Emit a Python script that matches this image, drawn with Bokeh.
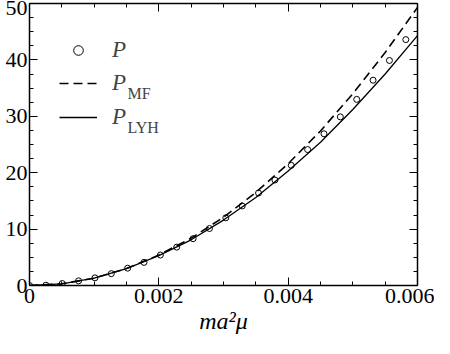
from bokeh.plotting import figure
from bokeh.models import (Range1d, LinearAxis, FixedTicker, Legend, LegendItem, Label, Title)
from bokeh.embed import file_html
from bokeh.resources import INLINE

# data
x_pts = [0, 0.000253, 0.000506, 0.000759, 0.001012, 0.001265, 0.001518, 0.001771,
         0.002024, 0.002277, 0.00253, 0.002783, 0.003036, 0.003289, 0.003542, 0.003795,
         0.004048, 0.004301, 0.004554, 0.004807, 0.00506, 0.005313, 0.005566, 0.005819]
p_pts = [0, 0.05, 0.35, 0.83, 1.36, 2.1, 3.07, 4.1, 5.4, 6.8, 8.3, 10.1, 12.0, 14.1,
         16.4, 18.7, 21.3, 24.1, 26.9, 29.9, 33.0, 36.4, 39.9, 43.6]

x_line = [0, 0.0005, 0.001, 0.0015, 0.002, 0.0025, 0.003, 0.0035, 0.004, 0.0045,
          0.005, 0.0055, 0.006]
p_mf = [0, 0.3, 1.3, 3.0, 5.4, 8.4, 12.1, 16.5, 21.6, 27.4, 34.0, 41.3, 49.3]
p_lyh = [0, 0.3, 1.3, 3.0, 5.3, 8.1, 11.6, 15.6, 20.3, 25.4, 31.2, 37.5, 44.3]

x_ticks = [0, 0.002, 0.004, 0.006]
x_tick_labels = ["0", "0.002", "0.004", "0.006"]
x_minor = [0.0005, 0.001, 0.0015, 0.0025, 0.003, 0.0035, 0.0045, 0.005, 0.0055]
y_ticks = [0, 10, 20, 30, 40, 50]
y_minor = [2.5, 5, 7.5, 12.5, 15, 17.5, 22.5, 25, 27.5, 32.5, 35, 37.5, 42.5, 45, 47.5]
x_title = "ma²μ"
legend_base = ["P", "P", "P"]
legend_subs = ["MF", "LYH"]

FONT = "\"Liberation Serif\", serif"

p = figure(width=434, height=338, output_backend="svg", toolbar_location=None,
           x_range=Range1d(0, 0.006), y_range=Range1d(0, 50),
           min_border_left=29, min_border_top=3, min_border_right=17, min_border_bottom=53)
p.outline_line_color = None
p.xgrid.visible = False
p.ygrid.visible = False
p.background_fill_color = "white"
p.border_fill_color = "white"

r_pts = p.scatter(x_pts, p_pts, marker="circle", size=6, fill_color="white",
                  line_color="black", line_width=1)
r_mf = p.line(x_line, p_mf, line_color="black", line_width=1.6, line_dash="9 5")
r_lyh = p.line(x_line, p_lyh, line_color="black", line_width=1.3)


def style_axis(ax, show_labels):
    ax.axis_line_width = 1.5
    ax.axis_line_color = "black"
    ax.major_tick_in = 8
    ax.major_tick_out = 0
    ax.minor_tick_in = 4
    ax.minor_tick_out = 0
    ax.major_tick_line_color = "black"
    ax.minor_tick_line_color = "black"
    ax.major_label_text_font = FONT
    ax.major_label_text_font_size = "22px" if show_labels else "1px"
    ax.major_label_text_color = "black"


xax = p.xaxis[0]
xax.ticker = FixedTicker(ticks=x_ticks, minor_ticks=x_minor)
xax.major_label_overrides = {t: l for t, l in zip(x_ticks, x_tick_labels)}
style_axis(xax, True)
xax.major_label_standoff = 3

yax = p.yaxis[0]
yax.ticker = FixedTicker(ticks=y_ticks, minor_ticks=y_minor)
style_axis(yax, True)
yax.major_label_standoff = 2

top = LinearAxis(ticker=FixedTicker(ticks=x_ticks, minor_ticks=x_minor))
style_axis(top, False)
top.major_label_standoff = 0
top.major_label_overrides = {t: "" for t in x_ticks}
p.add_layout(top, "above")
right = LinearAxis(ticker=FixedTicker(ticks=y_ticks, minor_ticks=y_minor))
style_axis(right, False)
right.major_label_standoff = 0
right.major_label_overrides = {t: "" for t in y_ticks}
p.add_layout(right, "right")

# x-axis title as a title annotation below the axis (serif italic)
p.add_layout(Title(text=x_title, align="center", text_font=FONT,
                   text_font_style="italic", text_font_size="24px",
                   text_color="black", standoff=0, offset=0), "below")

# one legend per row, so each row sits where the reference puts it
rows = [(r_pts, 222), (r_mf, 189), (r_lyh, 155)]
for (rend, ypos), lab in zip(rows, legend_base):
    lg = Legend(items=[LegendItem(label=lab, renderers=[rend])],
                location=(30, ypos), glyph_width=38, glyph_height=24, label_height=24,
                label_standoff=15, padding=0, margin=0,
                border_line_color=None, background_fill_alpha=0,
                label_text_font=FONT, label_text_font_style="italic",
                label_text_font_size="23px")
    p.add_layout(lg)

p.add_layout(Label(x=98, y=192, x_units="screen", y_units="screen", text=legend_subs[0],
                   text_font=FONT, text_font_size="16px", text_baseline="alphabetic"))
p.add_layout(Label(x=98, y=158, x_units="screen", y_units="screen", text=legend_subs[1],
                   text_font=FONT, text_font_size="16px", text_baseline="alphabetic"))

open("out.html", "w").write(file_html(p, INLINE))
